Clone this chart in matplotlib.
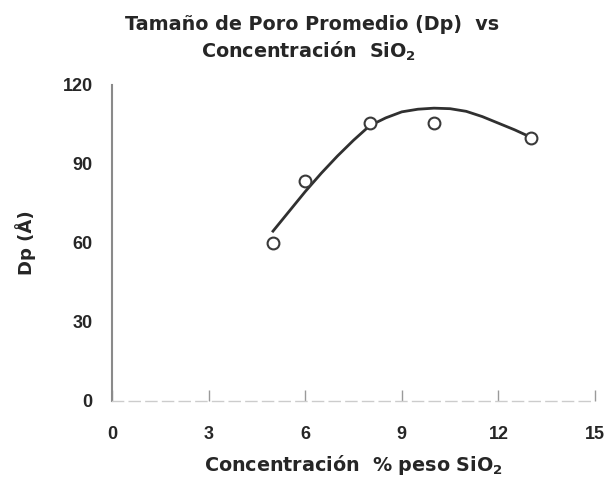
import matplotlib
matplotlib.use('Agg')
from matplotlib import pyplot as plt

# measured points
conc = [5, 6, 8, 10, 13]
dp = [60, 83.5, 105.5, 105.5, 100]

# fitted trend line
fit_x = [5, 5.5, 6, 6.5, 7, 7.5, 8, 8.5, 9, 9.5, 10, 10.5, 11, 11.5, 12, 12.5, 13]
fit_y = [64.5, 72, 79.5, 86.5, 93, 99, 104.5, 107.5, 109.8, 110.8, 111.2, 111, 110, 108, 105.5, 103, 100.2]

x_ticks = [0, 3, 6, 9, 12, 15]
y_ticks = [0, 30, 60, 90, 120]

plt.rcParams['font.family'] = ['Liberation Sans', 'DejaVu Sans']
plt.rcParams['font.weight'] = 'bold'
plt.rcParams['mathtext.fontset'] = 'custom'
plt.rcParams['mathtext.rm'] = 'DejaVu Sans:bold'
plt.rcParams['mathtext.it'] = 'DejaVu Sans:bold'
plt.rcParams['mathtext.bf'] = 'DejaVu Sans:bold'
plt.rcParams['mathtext.default'] = 'rm'

ink = '#262626'
wide = ['DejaVu Sans']

fig = plt.figure(figsize=(6.08, 4.78), dpi=100)
ax = fig.add_axes([0.1842, 0.1611, 0.7944, 0.6611])

ax.plot(fit_x, fit_y, color='#303030', lw=2.0, zorder=2)
ax.plot(conc, dp, 'o', ms=8.5, mfc='white', mec='#3a3a3a', mew=1.5, zorder=3)

ax.set_xlim(0, 15)
ax.set_ylim(0, 120)
ax.set_xticks(x_ticks)
ax.set_yticks(y_ticks)

for s in ['top', 'right']:
    ax.spines[s].set_visible(False)
ax.spines['left'].set_color('#8a8a8a')
ax.spines['left'].set_linewidth(1.5)
ax.spines['bottom'].set_color('#cccccc')
ax.spines['bottom'].set_linewidth(1.0)
ax.spines['bottom'].set_linestyle((0, (8, 4)))

ax.tick_params(axis='x', direction='in', length=8, width=1, color='#9a9a9a',
               pad=18, labelsize=13, labelcolor=ink)
ax.tick_params(axis='y', length=0, pad=14, labelsize=13, labelcolor=ink)

ax.set_xlabel(r'Concentración  % peso SiO$_2$', fontsize=13.8, color=ink,
              fontweight='bold', family=wide)
ax.xaxis.set_label_coords(0.5, -0.2025)
ax.xaxis.label.set_va('center')
ax.set_ylabel('Dp (Å)', fontsize=13, color=ink, fontweight='bold', family=wide)
ax.yaxis.set_label_coords(-0.18, 0.5)
ax.yaxis.label.set_va('center')

fig.text(0.513, 0.948, 'Tamaño de Poro Promedio (Dp)  vs', ha='center', va='center',
         fontsize=13.8, color=ink, fontweight='bold', family=wide)
fig.text(0.508, 0.893, r'Concentración  SiO$_2$', ha='center', va='center',
         fontsize=13.8, color=ink, fontweight='bold', family=wide)

fig.savefig('out.png', dpi=100)
